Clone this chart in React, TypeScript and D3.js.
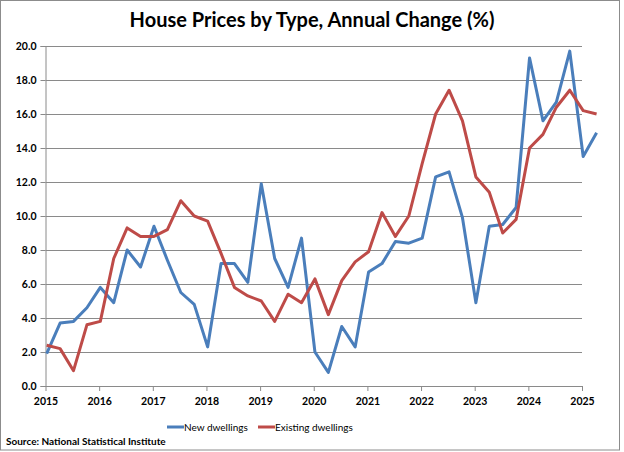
import * as d3 from 'd3';
import { useEffect, useRef } from 'react';

// quarterly observations, 2015 Q1 .. 2025 Q2
const quarters = d3.range(42).map((i) => `${2015 + Math.floor(i / 4)}Q${(i % 4) + 1}`);

const newDwellings = [
  1.9, 3.7, 3.8, 4.6, 5.8, 4.9, 8.0, 7.0, 9.4, 7.4,
  5.5, 4.8, 2.3, 7.2, 7.2, 6.1, 11.9, 7.5, 5.8, 8.7,
  2.0, 0.8, 3.5, 2.3, 6.7, 7.2, 8.5, 8.4, 8.7, 12.3,
  12.6, 9.9, 4.9, 9.4, 9.5, 10.5, 19.3, 15.6, 16.7, 19.7,
  13.5, 14.9,
];

const existingDwellings = [
  2.4, 2.2, 0.9, 3.6, 3.8, 7.5, 9.3, 8.8, 8.8, 9.2,
  10.9, 10.0, 9.7, 7.8, 5.8, 5.3, 5.0, 3.8, 5.4, 4.9,
  6.3, 4.2, 6.2, 7.3, 7.9, 10.2, 8.8, 10.0, 13.1, 16.0,
  17.4, 15.6, 12.3, 11.4, 9.0, 9.8, 14.0, 14.8, 16.4, 17.4,
  16.2, 16.0,
];

const yearTicks = d3.range(2015, 2026);
const yTicks = d3.range(0, 21, 2);

const series = [
  { name: 'New dwellings', values: newDwellings, color: '#4a7ebb' },
  { name: 'Existing dwellings', values: existingDwellings, color: '#be4b48' },
];

const font = 'Lato, "Liberation Sans", sans-serif';

// quarter label -> decimal year (points sit just after the year tick)
const quarterPos = (q: string) => +q.slice(0, 4) + (+q.slice(5) - 1) / 4 + 0.022;

const App = () => {
  const svgRef = useRef<SVGSVGElement | null>(null);

  useEffect(() => {
    const width = 624;
    const height = 452;
    const margin = { top: 46, right: 42, bottom: 66, left: 45.5 };

    const x = d3
      .scaleLinear()
      .domain([2015, 2025])
      .range([margin.left, 582]);

    const y = d3
      .scaleLinear()
      .domain([0, 20])
      .range([height - margin.bottom, margin.top]);

    const svg = d3.select(svgRef.current)
      .attr('width', width)
      .attr('height', height);

    svg.selectAll('*').remove();

    // outer chart border
    svg.append('rect')
      .attr('x', 0.5)
      .attr('y', 0.5)
      .attr('width', 619)
      .attr('height', 449.5)
      .attr('fill', '#fff')
      .attr('stroke', '#8c8c8c');

    // title
    svg.append('text')
      .attr('x', 312)
      .attr('y', 27)
      .attr('text-anchor', 'middle')
      .attr('font-family', font)
      .attr('font-weight', 'bold')
      .attr('font-size', 20)
      .text('House Prices by Type, Annual Change (%)');

    // gridlines
    svg.append('g')
      .selectAll('line')
      .data(yTicks.slice(1))
      .join('line')
      .attr('x1', margin.left)
      .attr('x2', width - margin.right)
      .attr('y1', (d) => Math.round(y(d)) + 0.5)
      .attr('y2', (d) => Math.round(y(d)) + 0.5)
      .attr('stroke', '#8a8a8a');

    // y-axis
    const yAxis = svg.append('g')
      .attr('transform', `translate(${margin.left},0)`)
      .call(d3.axisLeft(y).tickValues(yTicks).tickFormat(d3.format('.1f')).tickSize(5).tickPadding(4));
    yAxis.select('.domain').attr('stroke', '#8a8a8a');
    yAxis.selectAll('line').attr('stroke', '#8a8a8a');
    yAxis.selectAll('text')
      .attr('font-family', font)
      .attr('font-weight', 'bold')
      .attr('font-size', 10.5)
      .attr('fill', '#000');

    // x-axis
    const xAxis = svg.append('g')
      .attr('transform', `translate(0,${height - margin.bottom})`)
      .call(d3.axisBottom(x).tickValues(yearTicks).tickFormat(d3.format('d')).tickSize(5).tickSizeOuter(0).tickPadding(7));
    xAxis.select('.domain').attr('stroke', '#8a8a8a').attr('d', `M${margin.left},0.5H${width - margin.right}`);
    xAxis.selectAll('line').attr('stroke', '#8a8a8a');
    xAxis.selectAll('text')
      .attr('font-family', font)
      .attr('font-weight', 'bold')
      .attr('font-size', 10.5)
      .attr('fill', '#000');

    // lines
    const line = d3
      .line<number>()
      .x((_, i) => x(quarterPos(quarters[i])))
      .y((d) => y(d));

    svg.append('g')
      .selectAll('path')
      .data(series)
      .join('path')
      .attr('fill', 'none')
      .attr('stroke', (d) => d.color)
      .attr('stroke-width', 3)
      .attr('stroke-linejoin', 'round')
      .attr('d', (d) => line(d.values));

    // legend
    const legend = svg.append('g').attr('transform', 'translate(0,427)');
    const legendX = [167, 258];
    const item = legend.selectAll('g')
      .data(series)
      .join('g')
      .attr('transform', (_, i) => `translate(${legendX[i]},0)`);
    item.append('line')
      .attr('x1', 0)
      .attr('x2', 17)
      .attr('stroke', (d) => d.color)
      .attr('stroke-width', 3);
    item.append('text')
      .attr('x', 17)
      .attr('dy', '0.35em')
      .attr('font-family', font)
      .attr('font-size', 10)
      .text((d) => d.name);

    // source note
    svg.append('text')
      .attr('x', 6)
      .attr('y', 445)
      .attr('font-family', font)
      .attr('font-weight', 'bold')
      .attr('font-size', 10)
      .text('Source: National Statistical Institute');
  }, []);

  return <svg ref={svgRef} style={{ position: 'absolute', left: 0, top: 0 }}></svg>;
};

export default App;
